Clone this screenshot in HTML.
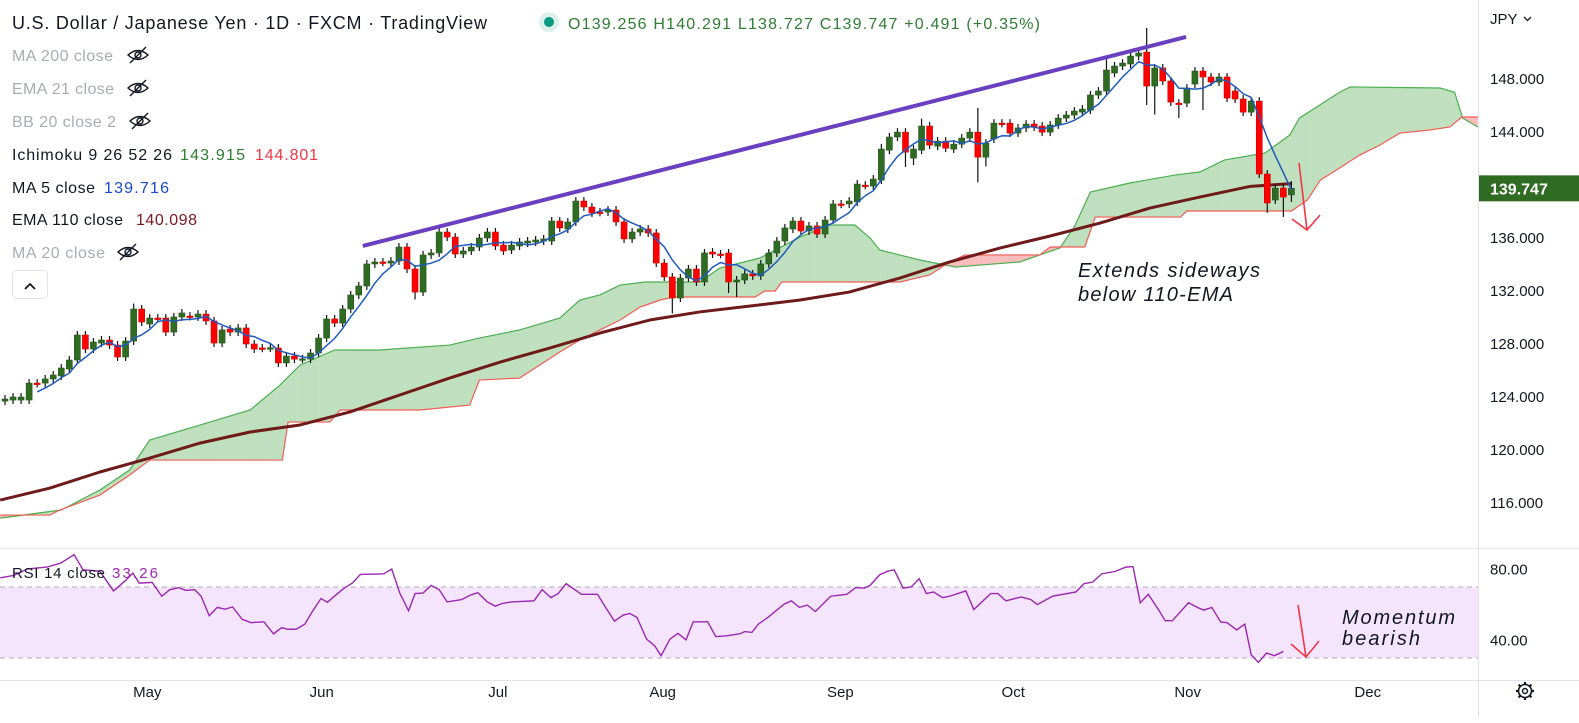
<!DOCTYPE html>
<html><head><meta charset="utf-8">
<style>
html,body{margin:0;padding:0;background:#fff;}
body{width:1579px;height:718px;overflow:hidden;font-family:"Liberation Sans",sans-serif;}
svg text{font-family:"Liberation Sans",sans-serif;}
</style></head>
<body>
<svg id="chart" width="1579" height="718" viewBox="0 0 1579 718" xmlns="http://www.w3.org/2000/svg">
  <defs>
    <clipPath id="mainClip"><rect x="0" y="0" width="1478" height="548"/></clipPath>
    <clipPath id="rsiClip"><rect x="0" y="549" width="1478" height="131"/></clipPath>
  </defs>
  <g id="cloud" clip-path="url(#mainClip)"></g>
  <g id="ema" clip-path="url(#mainClip)"></g>
  <g id="candles" clip-path="url(#mainClip)"></g>
  <g id="ma5" clip-path="url(#mainClip)"></g>
  <g id="trend" clip-path="url(#mainClip)"></g>
  <g id="rsi"></g>
  <g id="axes"></g>

  <line x1="1478.5" y1="0" x2="1478.5" y2="718" stroke="#e0e3eb"/>
  <line x1="0" y1="548.5" x2="1579" y2="548.5" stroke="#e0e3eb"/>
  <line x1="0" y1="680.5" x2="1579" y2="680.5" stroke="#e0e3eb"/>

  <text x="12" y="29" font-size="18" fill="#131722" textLength="475">U.S. Dollar / Japanese Yen · 1D · FXCM · TradingView</text>
  <circle cx="549" cy="22" r="10" fill="#dcf1ec"/>
  <circle cx="549" cy="22" r="5" fill="#089981"/>
  <text x="568" y="29" font-size="16" fill="#2e7d32" textLength="472">O139.256 H140.291 L138.727 C139.747 +0.491 (+0.35%)</text>

  <g font-size="16">
    <text x="12" y="61" fill="#a9acb5" textLength="101">MA 200 close</text>
    <text x="12" y="94" fill="#a9acb5" textLength="102">EMA 21 close</text>
    <text x="12" y="127" fill="#a9acb5" textLength="104">BB 20 close 2</text>
    <text x="12" y="160" fill="#131722" textLength="160">Ichimoku 9 26 52 26</text>
    <text x="180" y="160" fill="#2e7d32" textLength="65">143.915</text>
    <text x="255" y="160" fill="#f23645" textLength="63">144.801</text>
    <text x="12" y="193" fill="#131722" textLength="83">MA 5 close</text>
    <text x="104" y="193" fill="#1848cc" textLength="65">139.716</text>
    <text x="12" y="225" fill="#131722" textLength="111">EMA 110 close</text>
    <text x="136" y="225" fill="#801922" textLength="61">140.098</text>
    <text x="12" y="258" fill="#a9acb5" textLength="93">MA 20 close</text>
  </g>
  <g id="eyes"></g>
  <rect x="12.5" y="270.5" width="35" height="28" rx="4" fill="#fff" stroke="#e0e3eb"/>
  <path d="M25 289 L30 284 L35 289" fill="none" stroke="#131722" stroke-width="1.8"/>

  <text x="1078" y="277" font-size="20" font-style="italic" fill="#131722" textLength="182">Extends sideways</text>
  <text x="1078" y="301" font-size="20" font-style="italic" fill="#131722" textLength="155">below 110-EMA</text>
  <text x="1342" y="624" font-size="20" font-style="italic" fill="#131722" textLength="113">Momentum</text>
  <text x="1342" y="645" font-size="20" font-style="italic" fill="#131722" textLength="78">bearish</text>
  <g stroke="#f23645" stroke-width="1.6" fill="none">
    <path d="M1299 163 L1307 230 M1292 219 L1307 230 L1320 215"/>
    <path d="M1298 605 L1306 657 M1291 644 L1306 657 L1319 641"/>
  </g>

  <text x="1490" y="24" font-size="15" fill="#131722">JPY</text>
  <path d="M1524 17 L1527.5 20.5 L1531 17" fill="none" stroke="#131722" stroke-width="1.3"/>
  <g transform="translate(1525,691)">
    <circle r="6.5" fill="none" stroke="#131722" stroke-width="1.6"/>
    <circle r="2.5" fill="none" stroke="#131722" stroke-width="1.4"/>
    <g stroke="#131722" stroke-width="2.2">
      <line x1="0" y1="-9" x2="0" y2="-6"/><line x1="0" y1="9" x2="0" y2="6"/>
      <line x1="-9" y1="0" x2="-6" y2="0"/><line x1="9" y1="0" x2="6" y2="0"/>
      <line x1="-6.4" y1="-6.4" x2="-4.4" y2="-4.4"/><line x1="6.4" y1="6.4" x2="4.4" y2="4.4"/>
      <line x1="-6.4" y1="6.4" x2="-4.4" y2="4.4"/><line x1="6.4" y1="-6.4" x2="4.4" y2="-4.4"/>
    </g>
  </g>
</svg>
<script>
const opens = [123.69,123.77,123.77,123.77,125.05,125.05,125.36,125.59,126.11,126.79,
128.68,127.62,128.07,128.30,127.92,127.02,128.22,130.64,129.51,129.96,
129.96,128.90,130.04,130.11,130.04,130.26,129.74,128.07,129.13,128.90,
129.21,128.00,127.70,127.70,127.70,126.57,127.09,126.86,126.86,127.32,
128.45,129.89,129.58,130.64,131.70,132.38,134.04,134.19,134.11,134.26,
135.32,133.66,131.92,134.72,134.87,136.45,136.07,134.79,135.02,135.32,
136.00,136.45,135.47,135.09,135.40,135.62,135.70,135.77,135.77,137.28,
136.68,137.21,138.79,138.34,137.96,137.96,138.11,137.21,135.93,136.45,
136.68,136.38,134.11,133.06,131.47,132.98,133.66,132.68,134.94,134.79,
134.87,132.68,132.83,133.29,133.14,134.04,134.87,135.77,136.68,137.28,
136.53,136.91,136.30,137.36,138.57,138.57,138.72,139.99,139.92,140.37,
142.63,143.62,143.99,142.03,142.63,144.45,142.93,143.31,142.71,143.08,
143.54,143.99,142.10,143.47,144.67,144.67,143.92,144.30,144.60,144.45,
143.99,144.53,145.05,145.28,145.50,145.65,146.79,147.09,148.45,148.98,
149.13,149.73,150.03,147.47,148.83,147.85,146.18,146.18,147.62,148.60,
148.15,147.77,148.15,147.09,146.49,145.50,146.33,140.83,138.87,139.77,
139.256];
const closes = [123.85,124.00,124.00,125.05,125.02,125.36,125.66,126.19,126.79,128.68,
127.62,128.15,128.30,127.92,127.02,128.22,130.64,129.66,129.96,129.93,
128.90,130.04,130.34,130.08,130.26,129.74,128.07,129.06,128.90,129.21,
128.00,127.62,127.68,127.72,126.57,127.09,126.86,126.88,127.32,128.45,
129.89,129.58,130.64,131.70,132.38,134.04,134.19,134.17,134.26,135.32,
133.66,131.92,134.72,134.87,136.45,136.07,134.79,135.02,135.32,136.00,
136.45,135.40,135.02,135.47,135.70,135.77,135.85,135.93,137.28,136.76,
137.21,138.79,138.34,137.89,137.94,138.11,137.21,135.93,136.45,136.68,
136.38,134.11,133.06,131.47,132.98,133.66,132.68,134.87,134.79,134.77,
132.68,132.83,133.29,133.14,134.04,134.87,135.77,136.76,137.28,136.53,
136.91,136.30,137.36,138.57,138.55,138.79,140.07,139.97,140.45,142.71,
143.62,143.99,142.48,142.71,144.45,143.01,143.31,142.78,143.08,143.54,
143.99,142.10,143.16,144.67,144.65,143.92,144.30,144.60,144.38,143.99,
144.53,145.05,145.28,145.58,145.73,146.79,147.09,148.68,148.98,149.20,
149.73,149.96,147.47,148.83,147.85,146.26,146.16,147.32,148.60,148.15,
147.77,148.15,146.56,146.49,145.50,146.33,140.83,138.64,139.77,139.09,
139.747];
const highIdx = [16, 109, 114, 121, 137, 142, 160];
const highVal = [131.05, 143.10, 145.00, 145.81, 149.50, 151.85, 140.291];
const lowIdx  = [51, 83, 90, 91, 112, 113, 121, 122, 142, 143, 146, 149, 157, 159, 160];
const lowVal  = [131.36, 130.30, 131.85, 131.55, 141.36, 141.50, 140.20, 141.40, 146.04, 145.32, 145.05, 145.66, 137.90, 137.58, 138.727];

const emaIdx = [-0.6,5.6,11.8,18,24.3,30.5,36.7,42.9,49.1,55.3,61.6,67.8,74,80.2,86.4,92.7,98.9,105,111.3,117.5,123.8,130,136.2,142.4,148.6,154.9,160];
const emaVal = [116.22,117.13,118.34,119.39,120.53,121.36,121.89,122.87,124.15,125.43,126.64,127.70,128.83,129.81,130.42,130.87,131.32,131.92,132.98,134.19,135.25,136.15,137.13,138.26,139.09,139.90,140.10];

const spanAIdx = [-0.6,7,11.8,15.5,18,24.3,30.5,34.2,36.7,41,46.6,55.3,59,64,69,71.5,74,76.5,79.6,86.4,88.9,93.9,98.9,102.6,105.7,107.6,108.8,113.8,118.2,126.2,131.2,133,135,139.9,145.5,148.6,151.7,156.7,159.8,161,166,167.3,178.5,180.3,181.3,183.2];
const spanAVal = [114.86,115.47,116.98,118.49,120.75,121.89,123.02,124.90,126.41,127.55,127.55,127.92,128.45,129.06,129.96,131.32,131.70,132.45,132.68,132.68,133.73,134.49,136.07,136.98,136.98,136.00,135.09,134.34,133.81,134.19,135.25,136.83,139.47,140.15,140.75,140.98,141.89,142.41,143.77,145.05,147.00,147.40,147.32,147.00,145.05,144.38];
const spanBIdx = [-0.6,5.6,6.8,11.8,15.5,18,34.5,35.2,40.4,41.7,51.6,57.8,59,64,66.5,69,71.5,74,76.5,79,81.5,83.3,93.3,94.5,95.8,96.6,111.3,115,117.5,119.4,128.7,130,134.3,135.6,146.2,147,160,162,163.6,166,168.5,171,173.5,177.2,179.7,181.2,183.2];
const spanBVal = [115.09,115.09,115.47,116.60,118.11,119.24,119.24,122.11,122.11,123.02,123.02,123.39,125.28,125.43,126.41,127.40,128.30,129.06,129.81,130.79,131.32,131.55,131.55,132.00,132.00,132.68,132.68,133.21,134.19,134.72,134.72,135.32,135.32,137.58,137.58,138.04,138.04,138.87,140.37,141.28,142.26,143.01,143.92,144.15,144.38,145.13,145.13];

const trendIdx = [44.5, 146.9];
const trendVal = [135.40, 151.17];

const rsiIdx = [-0.6,1.1,2.8,5.2,6.9,8.6,9.7,11.8,13.5,15,15.9,16.7,18.3,19.5,20.5,21.6,22.5,23.6,24.4,25.4,26.4,27.4,28.3,29.5,30.6,32.2,33.4,34.4,35.2,36.2,37.3,38.2,39.3,40.1,41.1,42.2,43.2,44.2,47.1,48.1,49.1,50.2,51,52,53,54,55,56.8,57.8,58.8,60,61,61.8,63,65.8,66.8,67.9,68.8,69.8,71.7,73.7,74.6,75.8,76.9,77.7,78.6,79.8,80.8,81.6,82.7,83.7,84.7,85.6,87.4,88.4,89.6,91.4,92,92.9,93.7,94.9,96.9,97.8,98.8,99.8,100.8,102.7,104.7,105.8,106.9,107.6,108.8,109.8,110.6,111.7,112.7,113.7,114.6,115.5,116.6,117.5,119.5,120.5,122.6,123.5,124.5,126.4,127.6,128.4,130.3,133.2,134.2,135.3,136.4,138.1,139.4,140.3,141.2,142.2,143.5,144.3,145.2,147.2,148.4,149.1,150.1,151.2,152,153.2,154.2,155,155.9,156.9,157.9,159];
const rsiVal = [75.2,76.5,80.2,81.2,83.4,88.2,79.7,78.9,67.8,73.7,77.8,72.2,72.6,64.8,68.5,69.6,68.1,68.5,64.8,53.8,58.5,57.5,58.8,51.8,49.9,50.4,43.6,47.1,46.2,46.2,49.1,56.0,63.5,61.4,65.3,69.4,72.2,77.1,77.4,80.1,66.6,56.6,66.3,66.6,70.9,68.5,61.6,62.9,65.3,66.8,61.6,59.2,60.7,61.6,62.2,68.5,64.0,66.3,71.9,65.9,65.9,59.2,50.8,54.2,55.1,52.9,40.6,36.9,31.3,40.6,43.9,40.2,50.4,50.4,42.1,42.4,43.6,44.9,44.4,49.1,52.9,60.3,62.2,58.5,59.8,56.2,64.8,65.9,69.6,69.4,70.9,76.9,78.9,79.7,69.4,70.0,74.7,66.3,67.2,64.0,64.8,67.8,57.3,66.3,66.3,62.2,64.4,62.9,60.1,64.8,67.2,71.9,72.8,77.4,78.8,81.2,81.5,61.1,65.9,57.0,51.0,51.0,61.1,58.3,57.0,58.5,50.3,49.9,45.8,49.1,31.8,27.5,32.8,31.3,33.7];

const priceTicks = [148,144,140,136,132,128,124,120,116];
const rsiTicks = [80,40];
const monthNames = ["May","Jun","Jul","Aug","Sep","Oct","Nov","Dec"];
const monthIdx = [17.7,39.4,61.3,81.8,103.9,125.4,147.1,169.5];
const lastPrice = 139.747;

const X = i => 5 + i * 8.04;
const Y = p => 79 + (148 - p) * 13.25;
const RY = v => 587 + (70 - v) * 1.775;
const NS = "http://www.w3.org/2000/svg";
function mk(tag, attrs, parent) {
  const e = document.createElementNS(NS, tag);
  for (const k in attrs) e.setAttribute(k, attrs[k]);
  parent.appendChild(e);
  return e;
}
function interp(idx, val, t) {
  if (t <= idx[0]) return val[0];
  for (let k = 1; k < idx.length; k++) {
    if (t <= idx[k]) {
      const f = (t - idx[k-1]) / (idx[k] - idx[k-1]);
      return val[k-1] + f * (val[k] - val[k-1]);
    }
  }
  return val[val.length-1];
}

const cloudG = document.getElementById('cloud');
const t0 = spanAIdx[0], t1 = spanAIdx[spanAIdx.length-1];
let prevT = t0, prevA = interp(spanAIdx, spanAVal, t0), prevB = interp(spanBIdx, spanBVal, t0);
for (let t = t0 + 0.25; t <= t1 + 0.001; t += 0.25) {
  const a = interp(spanAIdx, spanAVal, t), b = interp(spanBIdx, spanBVal, t);
  const up = (a + prevA) / 2 >= (b + prevB) / 2;
  const poly = mk('polygon', {
    points: `${X(prevT)},${Y(prevA)} ${X(t)},${Y(a)} ${X(t)},${Y(b)} ${X(prevT)},${Y(prevB)}`,
    fill: up ? '#bfe0bf' : '#f8bcbc', stroke: up ? '#bfe0bf' : '#f8bcbc', 'stroke-width': 0.4
  }, cloudG);
  
  
  prevT = t; prevA = a; prevB = b;
}
const aPts = spanAIdx.map((t, k) => `${X(t)},${Y(spanAVal[k])}`).join(' ');
const bPts = spanBIdx.map((t, k) => `${X(t)},${Y(spanBVal[k])}`).join(' ');
const spanALine = mk('polyline', {points: aPts, fill: 'none', stroke: '#4caf50', 'stroke-width': 1.2}, cloudG);


const spanBLine = mk('polyline', {points: bPts, fill: 'none', stroke: '#f25c54', 'stroke-width': 1.2}, cloudG);



const emaLine = mk('polyline', {points: emaIdx.map((t, k) => `${X(t)},${Y(emaVal[k])}`).join(' '), fill: 'none', stroke: '#6e1a1a', 'stroke-width': 3, 'stroke-linejoin': 'round'}, document.getElementById('ema'));



const cg = document.getElementById('candles');
for (let i = 0; i < closes.length; i++) {
  const o = opens[i], c = closes[i];
  let hi = Math.max(o, c) + 0.3, lo = Math.min(o, c) - 0.3;
  const hk = highIdx.indexOf(i); if (hk >= 0) hi = highVal[hk];
  const lk = lowIdx.indexOf(i); if (lk >= 0) lo = lowVal[lk];
  const x = X(i);
  const wick = mk('line', {x1: x, x2: x, y1: Y(hi), y2: Y(lo), stroke: '#111', 'stroke-width': 1.2}, cg);
  
  
  const top = Y(Math.max(o, c)), h = Math.max(1.5, Math.abs(Y(o) - Y(c)));
  const bull = c >= o;
  const body = mk('rect', {x: x - 3, y: top, width: 6, height: h, fill: bull ? '#2f6b22' : '#ff0000', stroke: bull ? '#24561a' : '#d00000', 'stroke-width': 0.6}, cg);
  
  
}

const maPts = [];
for (let i = 4; i < closes.length; i++) {
  let s = 0; for (let k = i - 4; k <= i; k++) s += closes[k];
  maPts.push(`${X(i)},${Y(s / 5)}`);
}
const maLine = mk('polyline', {points: maPts.join(' '), fill: 'none', stroke: '#1e5bbf', 'stroke-width': 1.5}, document.getElementById('ma5'));



const tl = mk('line', {x1: X(trendIdx[0]), y1: Y(trendVal[0]), x2: X(trendIdx[1]), y2: Y(trendVal[1]), stroke: '#6a3fc0', 'stroke-width': 4}, document.getElementById('trend'));



const rg = document.getElementById('rsi');
const band = mk('rect', {x: 0, y: RY(70), width: 1478, height: RY(30) - RY(70), fill: '#f4e5fd'}, rg);


[70, 30].forEach(v => {
  const l = mk('line', {x1: 0, x2: 1478, y1: RY(v), y2: RY(v), stroke: '#b2a9b8', 'stroke-dasharray': '5,4', 'stroke-width': 1}, rg);
  
  
});
const rl = mk('polyline', {points: rsiIdx.map((t, k) => `${X(t)},${RY(rsiVal[k])}`).join(' '), fill: 'none', stroke: '#9c27b0', 'stroke-width': 1.4, 'clip-path': 'url(#rsiClip)'}, rg);


const rlab = mk('text', {x: 12, y: 578, 'font-size': 15, fill: '#131722', textLength: 93}, rg);


rlab.textContent = 'RSI 14 close';
const rv = mk('text', {x: 112, y: 578, 'font-size': 15, fill: '#9c27b0', textLength: 46}, rg);


rv.textContent = '33.26';

const ag = document.getElementById('axes');
priceTicks.forEach(p => {
  const t = mk('text', {x: 1490, y: Y(p) + 5, 'font-size': 15, fill: '#131722'}, ag);
  
  
  t.textContent = p.toFixed(3);
});
rsiTicks.forEach(v => {
  const t = mk('text', {x: 1490, y: RY(v) + 5, 'font-size': 15, fill: '#131722'}, ag);
  
  
  t.textContent = v.toFixed(2);
});
monthNames.forEach((m, k) => {
  const t = mk('text', {x: X(monthIdx[k]), y: 697, 'font-size': 15, fill: '#131722', 'text-anchor': 'middle'}, ag);
  
  
  t.textContent = m;
});
const pl = mk('rect', {x: 1479, y: Y(lastPrice) - 13, width: 100, height: 26, fill: '#2f6b22'}, ag);


const plt = mk('text', {x: 1490, y: Y(lastPrice) + 6, 'font-size': 16, 'font-weight': 'bold', fill: '#fff'}, ag);


plt.textContent = lastPrice.toFixed(3);

const eg = document.getElementById('eyes');
[[138, 55], [138, 88], [140, 121], [128, 252]].forEach(([cx, cy]) => {
  const g = mk('g', {transform: `translate(${cx},${cy})`, stroke: '#131722', fill: 'none', 'stroke-width': 1.4}, eg);
  
  
  mk('path', {d: 'M-10 0 Q0 -9 10 0 Q0 9 -10 0 Z'}, g);
  mk('circle', {r: 3}, g);
  mk('line', {x1: -8, y1: 8, x2: 8, y2: -8}, g);
});
</script>
</body></html>
